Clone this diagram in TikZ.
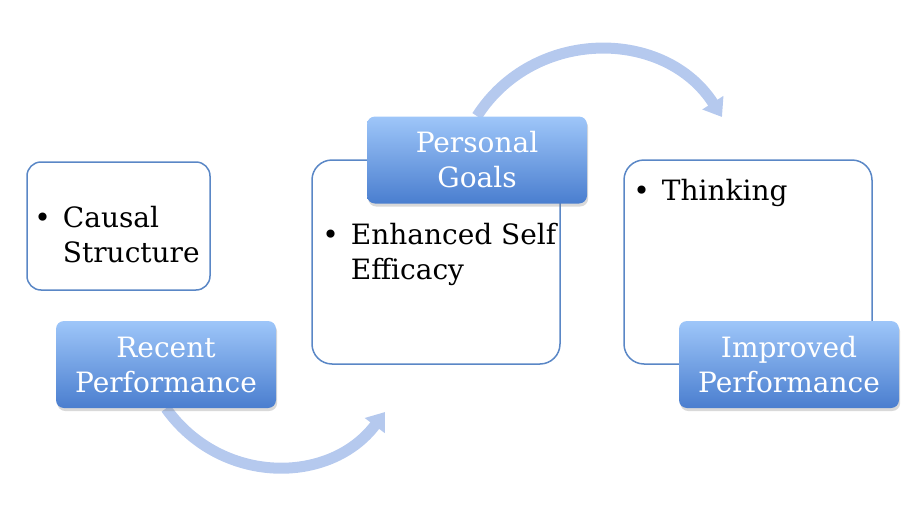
\documentclass[tikz,border=0pt]{standalone}
\usepackage{fontspec}
\setmainfont{DejaVu Serif}
\usetikzlibrary{arrows.meta,shadows,backgrounds}
\definecolor{panelline}{HTML}{5A87C6}
\definecolor{stagetop}{HTML}{9EC6F9}
\definecolor{stagebot}{HTML}{4A7ECF}
\definecolor{loopblue}{HTML}{B5C9EE}
\newcommand{\bitem}[2]{\textbullet\hspace{6pt}#1\\\phantom{\textbullet}\hspace{6pt}#2}

\begin{document}
\begin{tikzpicture}[x=0.5pt,y=-0.5pt,
    every node/.style={font=\fontsize{14}{17.5}\selectfont},
    panel/.style={draw=panelline,line width=0.75pt,fill=white,rounded corners=10pt},
    stage/.style={rounded corners=4pt,top color=stagetop,bottom color=stagebot,
      text=white,align=center,minimum width=110pt,minimum height=43.5pt,inner sep=0pt,
      drop shadow={opacity=0.3,shadow xshift=0.6pt,shadow yshift=-1.5pt}},
    item/.style={anchor=north west,align=left,inner sep=0pt},
    loop/.style={draw=loopblue,line width=5.5pt,-{Triangle[width=12pt,length=8.5pt]}}]
  \useasboundingbox (0,0) rectangle (907,525);
  \node[panel,rounded corners=7pt,minimum width=91.5pt,minimum height=64pt] (causal) at (118.5,226) {};
  \node[panel,minimum width=124pt,minimum height=102pt] (mid) at (436,262) {};
  \node[panel,minimum width=124pt,minimum height=102pt] (right) at (748,262) {};
  \node[item] (causaltxt) at (34,206) {\bitem{Causal}{Structure}};
  \node[item] (efficacy) at (322,223) {\bitem{Enhanced Self}{Efficacy}};
  \node[item] (thinking) at (633,179) {\textbullet\hspace{6pt}Thinking};
  \node[stage] (recent) at (166,364.5) {Recent\\Performance};
  \node[stage] (goals) at (477,160) {Personal\\Goals};
  \node[stage] (improved) at (789,364.5) {Improved\\Performance};
  \coordinate (tipA) at (385,412);
  \coordinate (tipB) at (722,117);
  \begin{scope}[on background layer]
    \draw[loop] (recent.south) .. controls +(55,77) and +(-55,73) .. (tipA);
    \draw[loop] (goals.north) .. controls +(57,-89) and +(-57,-89) .. (tipB);
  \end{scope}
\end{tikzpicture}
\end{document}
